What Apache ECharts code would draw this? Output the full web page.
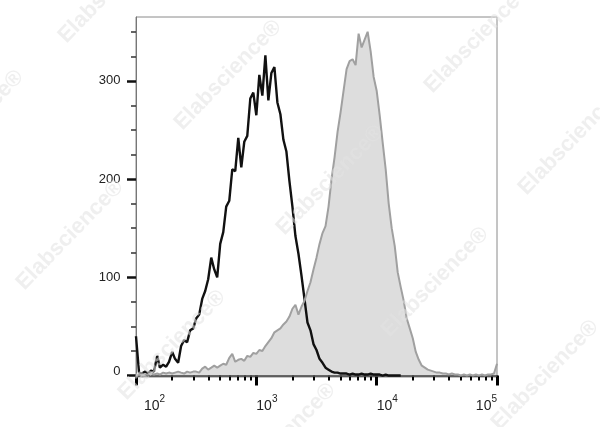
<!DOCTYPE html>
<html><head><meta charset="utf-8">
<script src="https://cdn.jsdelivr.net/npm/echarts@6/dist/echarts.min.js"></script>
<style>html,body{margin:0;padding:0;background:#fff}#c{width:600px;height:427px}</style>
</head><body><div id="c"></div>
<script>
// fluorescence channel bins (1/40 decade)
const xBins = [100,106,112,119,126,133,141,150,158,168,178,188,200,211,224,237,251,266,282,299,316,335,355,376,398,422,447,473,501,531,562,596,631,668,708,750,794,841,891,944,
1000,1059,1122,1189,1259,1334,1413,1496,1585,1679,1778,1884,1995,2113,2239,2371,2512,2661,2818,2985,3162,3350,3548,3758,3981,4217,4467,4732,5012,5309,5623,5957,6310,6683,7079,7499,7943,8414,8913,9441,
10000,10593,11220,11885,12589,13335,14125,14962,15849,16788,17783,18836,19953,21135,22387,23714,25119,26607,28184,29854,31623,33497,35481,37584,39811,42170,44668,47315,50119,53088,56234,59566,63096,66834,70795,74989,79433,84140,89125,94406,100000];
// control (black outline)
const yBlack = [40,3,2,4,2,5,4,20,8,11,9,14,24,17,13,30,36,34,46,48,58,62,78,86,98,120,108,100,134,146,172,178,210,208,242,212,238,244,282,288,
265,306,285,326,280,308,314,278,266,240,228,198,172,142,124,102,78,54,46,32,26,17,13,8,6,4,3,3,2,2,2,1,2,1,1,2,1,1,2,1,
1,1,0,1,0,0,0,0,0];
// stained sample (grey filled)
const yGray = [0,1,0,1,1,2,1,2,1,3,2,3,2,3,4,3,2,4,3,4,4,3,7,9,6,8,10,8,10,12,11,18,22,14,16,17,15,20,19,23,
22,26,25,30,34,38,44,46,48,52,55,60,68,72,62,70,76,86,95,108,120,134,145,152,172,200,222,248,268,290,312,320,322,316,348,334,342,350,330,304,
290,265,237,210,175,150,132,105,90,76,58,48,38,24,16,10,8,6,5,4,3,3,2,2,1,2,1,1,0,1,0,1,0,1,0,1,0,1,1,2,12];
const yTicks = [0,100,200,300];
const yMinorTicks = [25,50,75,125,150,175,225,250,275,325,350];
const xTicks = [100,1000,10000,100000];
const xTickBase = '10';
const xTickExp = ['2','3','4','5'];
const xMinorTicks = [200,300,400,500,600,700,800,900,2000,3000,4000,5000,6000,7000,8000,9000,20000,30000,40000,50000,60000,70000,80000,90000];
const watermarkText = 'Elabscience®';
const watermarkSpots = [[112,-12],[-30,125],[228,75],[478,38],[572,140],[70,235],[330,180],[435,282],[545,375],[172,345],[282,438]];

const FONT = '"Liberation Sans", Arial, Helvetica, sans-serif';
const chart = echarts.init(document.getElementById('c'), null, {renderer:'canvas'});

function xLabel(v){
  const j = xTicks.findIndex(t => Math.abs(t - v) / t < 1e-6);
  if (j < 0) return '';
  const b = j === 0 ? 'b0' : 'b';
  return '{' + b + '|' + xTickBase + '}{s|' + xTickExp[j] + '}';
}

const option = {
  animation: false,
  backgroundColor: '#fff',
  grid: {left: 136, right: 103, top: 17, bottom: 50, show: true, borderColor: '#8a8a8a', borderWidth: 1, backgroundColor: 'transparent'},
  xAxis: [{
    type: 'log', logBase: 10, min: 100, max: 100000,
    axisLine: {show: true, lineStyle: {color: '#000', width: 1.5}},
    axisTick: {show: true, length: 10, lineStyle: {color: '#000', width: 3}},
    splitLine: {show: false},
    minorTick: {show: false},
    axisLabel: {
      show: true, margin: 21, align: 'left', alignMinLabel: 'left', alignMaxLabel: 'right',
      formatter: xLabel,
      rich: {
        b: {fontSize: 14, lineHeight: 16, color: '#222', fontFamily: FONT},
        b0: {fontSize: 14, lineHeight: 16, color: '#222', fontFamily: FONT, padding: [0,0,0,8]},
        s: {fontSize: 10, lineHeight: 12, color: '#222', fontFamily: FONT, padding: [0,0,13,0]}
      }
    }
  },{
    type: 'log', logBase: 10, min: 100, max: 100000, position: 'bottom',
    axisLine: {show: false},
    axisLabel: {show: false},
    splitLine: {show: false},
    axisTick: {show: true, length: 5, customValues: xMinorTicks, lineStyle: {color: '#000', width: 2}}
  }],
  yAxis: [{
    type: 'value', min: -1.5, max: 365, position: 'left',
    axisLine: {show: true, lineStyle: {color: '#777', width: 1}},
    axisTick: {show: true, length: 9, customValues: yTicks, lineStyle: {color: '#111', width: 2.5}},
    splitLine: {show: false},
    axisLabel: {
      show: true, margin: 15.5, customValues: yTicks,
      formatter: v => (v === 0 ? '{z|0}' : '{n|' + v + '}'),
      rich: {
        n: {fontSize: 13, color: '#222', fontFamily: FONT},
        z: {fontSize: 13, color: '#222', fontFamily: FONT, padding: [0,0,8,0]}
      }
    }
  },{
    type: 'value', min: -1.5, max: 365, position: 'left',
    axisLine: {show: false},
    axisLabel: {show: false},
    splitLine: {show: false},
    axisTick: {show: true, length: 5, customValues: yMinorTicks, lineStyle: {color: '#333', width: 1.5}}
  }],
  series: [{
    type: 'line', name: 'control', xAxisIndex: 0, yAxisIndex: 0,
    data: yBlack.map((y, i) => [xBins[i], y]),
    showSymbol: false, silent: true,
    lineStyle: {color: '#111', width: 2.4}
  },{
    type: 'line', name: 'stained', xAxisIndex: 0, yAxisIndex: 0,
    data: yGray.map((y, i) => [xBins[i], y]),
    showSymbol: false, silent: true,
    lineStyle: {color: '#a0a0a0', width: 2},
    areaStyle: {color: 'rgba(165,165,165,0.54)', origin: 'start'}
  }],
  graphic: watermarkSpots.map(p => ({
    type: 'text', x: p[0], y: p[1], rotation: 0.8, z: 100, silent: true,
    style: {text: watermarkText, fontSize: 22, fontWeight: 'bold', fontFamily: FONT, fill: 'rgba(225,225,225,0.55)', align: 'center', verticalAlign: 'middle'}
  }))
};
chart.setOption(option);
</script></body></html>
